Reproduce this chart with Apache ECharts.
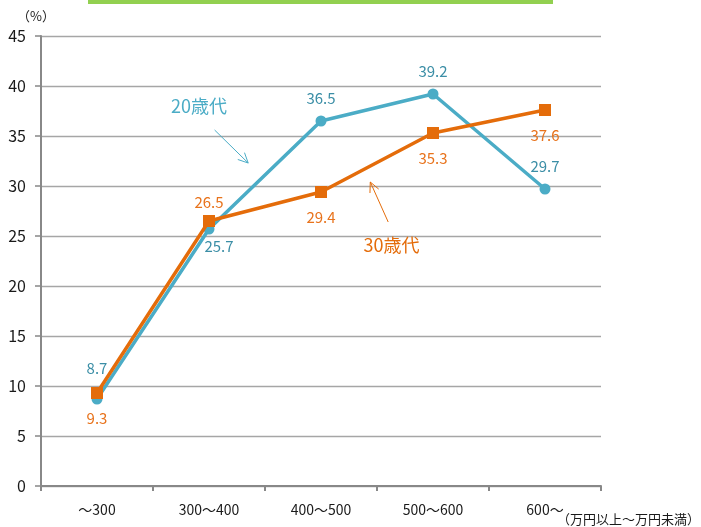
<!DOCTYPE html>
<html>
<head>
<meta charset="utf-8">
<script src="https://cdn.jsdelivr.net/npm/echarts@6/dist/echarts.min.js"></script>
<style>
  html, body { margin: 0; padding: 0; background: #fff; }
  #chart { width: 701px; height: 527px; }
</style>
</head>
<body>
<div id="chart"></div>
<script>
// Income brackets (万円) and share (%) for each age group
const categories = ['～300', '300～400', '400～500', '500～600', '600～'];
const age20s = [8.7, 25.7, 36.5, 39.2, 29.7];
const age30s = [9.3, 26.5, 29.4, 35.3, 37.6];
const yTicks = { min: 0, max: 45, interval: 5 };

const FONT = '"Noto Sans CJK JP", "Noto Sans", sans-serif';
const C20 = '#4bacc6', C20TXT = '#3b8ea6';
const C30 = '#e46c0a', C30TXT = '#e8731c';

// value label placement per point
const pos20 = [
  { position: 'top', distance: 18 },
  { position: 'bottom', distance: 4, offset: [10, 0] },
  { position: 'top', distance: 10 },
  { position: 'top', distance: 10 },
  { position: 'top', distance: 10 }
];
const pos30 = [
  { position: 'bottom', distance: 12 },
  { position: 'top', distance: 5 },
  { position: 'bottom', distance: 12 },
  { position: 'bottom', distance: 12 },
  { position: 'bottom', distance: 12 }
];

const chart = echarts.init(document.getElementById('chart'));

function seriesData(vals, pos) {
  return vals.map((v, i) => ({ value: v, label: pos[i] }));
}

chart.setOption({
  animation: false,
  textStyle: { fontFamily: FONT },
  grid: { left: 41, right: 100, top: 36, bottom: 41 },
  xAxis: {
    type: 'category',
    data: categories,
    boundaryGap: true,
    axisLine: { lineStyle: { color: '#888', width: 2 } },
    axisTick: { show: true, alignWithLabel: false, length: 5, lineStyle: { color: '#888', width: 2 } },
    axisLabel: { color: '#1a1a1a', fontSize: 14, margin: 17, fontFamily: FONT }
  },
  yAxis: {
    type: 'value',
    min: yTicks.min, max: yTicks.max, interval: yTicks.interval,
    axisLine: { show: true, lineStyle: { color: '#888', width: 2 } },
    axisTick: { show: true, length: 6, lineStyle: { color: '#888', width: 1.5 } },
    axisLabel: { color: '#1a1a1a', fontSize: 16, margin: 15, fontFamily: FONT },
    splitLine: { lineStyle: { color: '#a6a6a6', width: 1.3 } }
  },
  series: [
    {
      name: '20歳代', type: 'line', data: seriesData(age20s, pos20),
      symbol: 'circle', symbolSize: 11,
      lineStyle: { color: C20, width: 3.5 }, itemStyle: { color: C20 },
      label: { show: true, color: C20TXT, fontSize: 15, fontFamily: FONT },
      z: 2
    },
    {
      name: '30歳代', type: 'line', data: seriesData(age30s, pos30),
      symbol: 'rect', symbolSize: 12,
      lineStyle: { color: C30, width: 3.5 }, itemStyle: { color: C30 },
      label: { show: true, color: C30TXT, fontSize: 15, fontFamily: FONT },
      z: 3
    }
  ]
});

// Convert (fractional category index, value) to pixel coordinates
function toPx(idx, val) {
  const i0 = Math.floor(idx), i1 = Math.min(i0 + 1, categories.length - 1);
  const p0 = chart.convertToPixel({ gridIndex: 0 }, [i0, val]);
  const p1 = chart.convertToPixel({ gridIndex: 0 }, [i1, val]);
  const step = i1 > i0 ? (p1[0] - p0[0]) : 0;
  return [p0[0] + step * (idx - i0), p0[1]];
}

function arrow(from, to, color) {
  const a = toPx(from[0], from[1]), b = toPx(to[0], to[1]);
  const ang = Math.atan2(b[1] - a[1], b[0] - a[0]);
  const h = 11, spread = 0.45;
  const l = [b[0] - h * Math.cos(ang - spread), b[1] - h * Math.sin(ang - spread)];
  const r = [b[0] - h * Math.cos(ang + spread), b[1] - h * Math.sin(ang + spread)];
  return [
    { type: 'line', shape: { x1: a[0], y1: a[1], x2: b[0], y2: b[1] }, style: { stroke: color, lineWidth: 1 } },
    { type: 'polyline', shape: { points: [l, b, r] }, style: { stroke: color, lineWidth: 1, fill: null } }
  ];
}

const t20 = toPx(0.91, 38.0), t30 = toPx(2.63, 24.1);

chart.setOption({
  graphic: [
    // green band across the top
    { type: 'rect', shape: { x: 88, y: 0, width: 465, height: 4 }, style: { fill: '#92d050' } },
    // unit labels
    { type: 'text', x: 17, y: 10, style: { text: '（%）', font: '13px ' + FONT, fill: '#1a1a1a' } },
    { type: 'text', x: 557, y: 513, style: { text: '（万円以上～万円未満）', font: '13px ' + FONT, fill: '#1a1a1a' } },
    // series callouts
    { type: 'text', x: t20[0], y: t20[1], style: { text: '20歳代', font: '18px ' + FONT, fill: C20, align: 'center', verticalAlign: 'middle' } },
    { type: 'text', x: t30[0], y: t30[1], style: { text: '30歳代', font: '18px ' + FONT, fill: C30, align: 'center', verticalAlign: 'middle' } },
    ...arrow([1.05, 35.6], [1.35, 32.3], C20),
    ...arrow([2.6, 26.4], [2.44, 30.4], C30)
  ]
});
</script>
</body>
</html>
